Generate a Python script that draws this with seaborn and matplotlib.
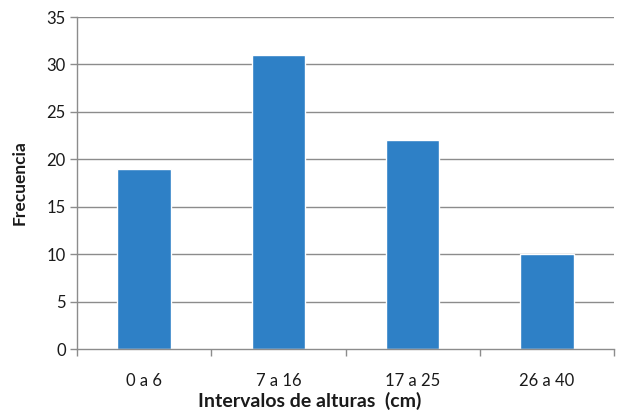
import matplotlib
matplotlib.use("Agg")
import matplotlib.pyplot as plt
import seaborn as sns
import pandas as pd

categorias = ["0 a 6", "7 a 16", "17 a 25", "26 a 40"]
frecuencias = [19, 31, 22, 10]
y_ticks = [0, 5, 10, 15, 20, 25, 30, 35]

sns.set_theme(style="white")
plt.rcParams["font.family"] = ["Lato", "DejaVu Sans"]

df = pd.DataFrame({"intervalo": categorias, "frecuencia": frecuencias})

fig = plt.figure(figsize=(6.18, 4.12), dpi=100)
ax = fig.add_axes([77 / 618, 1 - 349 / 412, (614 - 77) / 618, (349 - 17) / 412])

grid_color = "#8c8c8c"
ax.set_axisbelow(True)
for t in y_ticks[1:]:
    ax.axhline(t, color=grid_color, linewidth=1.0, zorder=0)

sns.barplot(data=df, x="intervalo", y="frecuencia", color="#2e80c6",
            saturation=1, width=0.4, ax=ax, zorder=2)

ax.set_xlim(-0.5, len(categorias) - 0.5)
ax.set_ylim(0, 35)
ax.set_yticks(y_ticks)
ax.set_yticklabels([str(v) for v in y_ticks], fontsize=12, color="#1a1a1a")
ax.set_xticks(range(len(categorias)))
ax.set_xticklabels(categorias, fontsize=12, color="#1a1a1a")

# boundary tick marks between categories on the x axis
ax.set_xticks([i - 0.5 for i in range(len(categorias) + 1)], minor=True)
ax.tick_params(axis="x", which="major", length=0, pad=17)
ax.tick_params(axis="x", which="minor", length=5, width=1, color=grid_color, direction="out")
ax.tick_params(axis="y", which="major", length=5, width=1, color=grid_color, direction="out", pad=3)
ax.tick_params(left=True, bottom=True, which="both")

for side in ["top", "right"]:
    ax.spines[side].set_visible(False)
for side in ["left", "bottom"]:
    ax.spines[side].set_color(grid_color)
    ax.spines[side].set_linewidth(1.0)

ax.set_xlabel("")
fig.text(310 / 618, 1 - 401 / 412, "Intervalos de alturas  (cm)", fontsize=14,
         fontweight="bold", color="#1a1a1a", ha="center", va="center")
ax.set_ylabel("Frecuencia", fontsize=12.5, fontweight="bold", color="#1a1a1a", labelpad=14)

fig.savefig("out.png", dpi=100)
